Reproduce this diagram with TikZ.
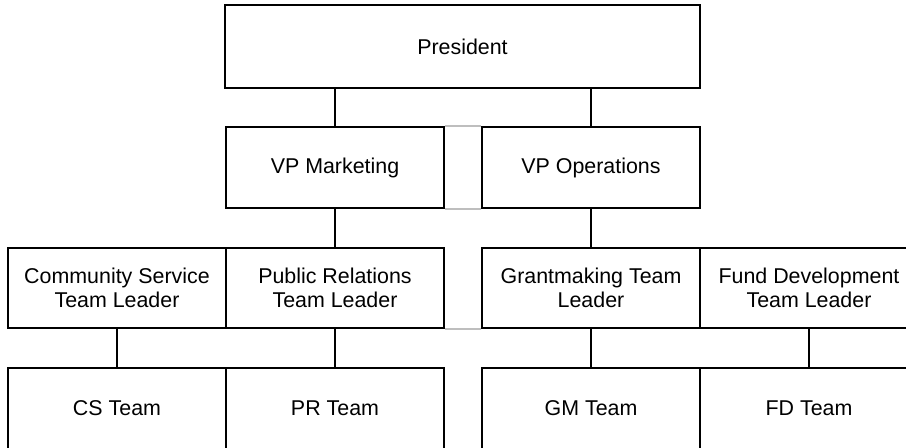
\documentclass[tikz,border=0pt]{standalone}
\usepackage{fontspec}
\setmainfont{Liberation Sans}
\definecolor{linegray}{RGB}{190,190,190}
\begin{document}
\begin{tikzpicture}[x=0.5pt,y=-0.5pt,
  box/.style={rectangle, draw=black, line width=1pt, align=center, inner sep=0pt,
    minimum width=109pt, minimum height=40.5pt, font=\fontsize{10.7}{12}\selectfont},
  link/.style={line width=1pt},
  sibling/.style={draw=linegray, line width=0.7pt}]
\clip (0,0) rectangle (906,447);

\node[box, minimum width=237.5pt, minimum height=41.5pt](pres) at (462.5,46.5) {President};

\node[box](vpm) at (335,167.5) {VP Marketing};
\node[box](vpo) at (591,167.5) {VP Operations};

\node[box, minimum height=40pt](csl) at (117,288) {Community Service\\Team Leader};
\node[box, minimum height=40pt](prl) at (335,288) {Public Relations\\Team Leader};
\node[box, minimum height=40pt](gml) at (591,288) {Grantmaking Team\\Leader};
\node[box, minimum height=40pt](fdl) at (809,288) {Fund Development\\Team Leader};

\node[box](cs) at (117,408.5) {CS Team};
\node[box](pr) at (335,408.5) {PR Team};
\node[box](gm) at (591,408.5) {GM Team};
\node[box](fd) at (809,408.5) {FD Team};

% grey lines joining boxes on one level
\draw[sibling] (vpm.north east) -- (vpo.north west);
\draw[sibling] (vpm.south east) -- (vpo.south west);
\draw[sibling] (prl.south east) -- (gml.south west);

% reporting lines
\draw[link] (vpm.north) -- (vpm.north |- pres.south);
\draw[link] (vpo.north) -- (vpo.north |- pres.south);
\draw[link] (vpm.south) -- (prl.north);
\draw[link] (vpo.south) -- (gml.north);
\draw[link] (csl.south) -- (cs.north);
\draw[link] (prl.south) -- (pr.north);
\draw[link] (gml.south) -- (gm.north);
\draw[link] (fdl.south) -- (fd.north);
\end{tikzpicture}
\end{document}
